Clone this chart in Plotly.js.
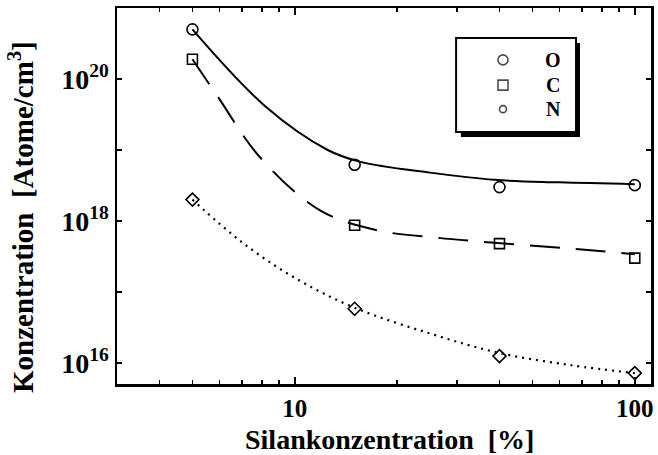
<!DOCTYPE html>
<html>
<head>
<meta charset="utf-8">
<script src="https://cdn.plot.ly/plotly-3.0.1.min.js"></script>
<style>
  html, body { margin: 0; padding: 0; background: #fff; }
  #chart { width: 658px; height: 455px; }
</style>
</head>
<body>
<div id="chart"></div>
<script>
// Measured impurity concentrations vs. silane concentration
const silan = [5, 15, 40, 100];
const oxygen = [5.0e20, 6.2e18, 3.0e18, 3.2e18];
const carbon = [1.9e20, 8.7e17, 4.8e17, 3.0e17];
const nitrogen = [2.0e18, 5.8e16, 1.25e16, 7.2e15];

// Fitted trend curves (points along each curve)
const oFitX = [5, 8.2, 12.5, 15.6, 25, 38.7, 60, 100];
const oFitY = [5.0e20, 4.1e19, 1.0e19, 6.8e18, 4.8e18, 3.8e18, 3.5e18, 3.3e18];
const cFitX = [5, 5.9, 7.9, 11.9, 17.5, 26.3, 39.5, 60.5, 100];
const cFitY = [1.9e20, 5.9e19, 7.9e18, 1.4e18, 7.4e17, 5.8e17, 4.9e17, 4.2e17, 3.4e17];
const nFitX = [5, 7, 10, 15, 25, 40, 65, 100];
const nFitY = [2.0e18, 5.0e17, 1.58e17, 6.0e16, 2.6e16, 1.38e16, 9.3e15, 7.2e15];

const xTickVals = [10, 100];
const xTickText = ['10', '100'];
const xMinorVals = [3, 4, 5, 6, 7, 8, 9, 20, 30, 40, 50, 60, 70, 80, 90];
const yTickVals = [1e16, 1e18, 1e20];
const yTickText = ['10<sup>16</sup>', '10<sup>18</sup>', '10<sup>20</sup>'];
const yMinorVals = [1e17, 1e19];

const legendNames = ['O', 'C', 'N'];
const legendSymbols = ['circle-open', 'square-open', 'circle-open'];
const legendSizes = [10, 10, 7];
const legendKeyX = [0.7228, 0.7228, 0.7228];
const legendY = [0.862, 0.795, 0.731];

const xTitle = 'Silankonzentration  [%]';
const yTitle = 'Konzentration  [Atome/cm<sup>3</sup>]';

const serif = 'Liberation Serif, Times New Roman, serif';

const traces = [
  { x: oFitX, y: oFitY, mode: 'lines', line: { color: '#000', width: 2, shape: 'spline', smoothing: 1 }, hoverinfo: 'skip' },
  { x: cFitX, y: cFitY, mode: 'lines', line: { color: '#000', width: 2, shape: 'spline', smoothing: 1, dash: '30px,16px' }, hoverinfo: 'skip' },
  { x: nFitX, y: nFitY, mode: 'lines', line: { color: '#000', width: 2.2, shape: 'spline', smoothing: 1, dash: '2px,5px' }, hoverinfo: 'skip' },
  { x: silan, y: oxygen, name: 'O', mode: 'markers', marker: { symbol: 'circle-open', size: 11, color: '#000', line: { width: 1.6 } } },
  { x: silan, y: carbon, name: 'C', mode: 'markers', marker: { symbol: 'square-open', size: 10, color: '#000', line: { width: 1.6 } } },
  { x: silan, y: nitrogen, name: 'N', mode: 'markers', marker: { symbol: 'diamond-open', size: 10, color: '#000', line: { width: 1.6 } } },
  // legend keys, drawn on an overlay axis spanning the plot area
  { x: legendKeyX, y: legendY, xaxis: 'x2', yaxis: 'y2', mode: 'markers',
    marker: { symbol: legendSymbols, size: legendSizes, color: '#000', line: { width: 1.6 } }, hoverinfo: 'skip' }
];

const layout = {
  width: 658,
  height: 455,
  margin: { l: 117, r: 7, t: 8, b: 71 },
  paper_bgcolor: '#fff',
  plot_bgcolor: '#fff',
  showlegend: false,
  font: { family: serif, color: '#000', size: 28, weight: 700 },
  xaxis: {
    type: 'log',
    range: [Math.log10(3), 2.0477],
    tickvals: xTickVals,
    ticktext: xTickText,
    ticks: 'inside',
    ticklen: 7,
    tickwidth: 1.5,
    tickcolor: '#000',
    minor: { tickvals: xMinorVals, ticks: 'inside', ticklen: 4, tickwidth: 1.5, tickcolor: '#000', showgrid: false },
    showline: true,
    linewidth: 2.5,
    linecolor: '#000',
    mirror: 'ticks',
    showgrid: false,
    zeroline: false,
    tickfont: { family: serif, size: 25, weight: 700 }
  },
  yaxis: {
    type: 'log',
    range: [15.704, 21.0],
    tickvals: yTickVals,
    ticktext: yTickText,
    ticks: 'inside',
    ticklen: 5,
    tickwidth: 1.5,
    tickcolor: '#000',
    minor: { tickvals: yMinorVals, ticks: 'inside', ticklen: 5, tickwidth: 1.5, tickcolor: '#000', showgrid: false },
    showline: true,
    linewidth: 2.5,
    linecolor: '#000',
    mirror: 'ticks',
    showgrid: false,
    zeroline: false,
    tickfont: { family: serif, size: 28, weight: 700 }
  },
  xaxis2: { overlaying: 'x', range: [0, 1], visible: false, fixedrange: true },
  yaxis2: { overlaying: 'y', range: [0, 1], visible: false, fixedrange: true },
  shapes: [
    // legend box shadow and frame
    { type: 'rect', xref: 'paper', yref: 'paper', x0: 0.644, x1: 0.867, y0: 0.657, y1: 0.907,
      fillcolor: '#000', line: { width: 0 }, layer: 'below' },
    { type: 'rect', xref: 'paper', yref: 'paper', x0: 0.635, x1: 0.8596, y0: 0.670, y1: 0.920,
      fillcolor: '#fff', line: { color: '#000', width: 2 }, layer: 'below' }
  ],
  annotations: legendNames.map((n, i) => ({
    text: n, xref: 'paper', yref: 'paper', x: 0.8165, y: legendY[i],
    xanchor: 'center', yanchor: 'middle', showarrow: false,
    font: { family: serif, size: 20, weight: 700, color: '#000' }
  })).concat([
    // axis titles
    { text: xTitle, xref: 'paper', yref: 'paper', x: 0.51, y: -0.148, xanchor: 'center', yanchor: 'middle',
      showarrow: false, font: { family: serif, size: 28, weight: 700, color: '#000' } },
    { text: yTitle, xref: 'paper', yref: 'paper', x: -0.18, y: 0.444, xanchor: 'center', yanchor: 'middle',
      textangle: -90, showarrow: false, font: { family: serif, size: 29, weight: 700, color: '#000' } }
  ])
};

Plotly.newPlot('chart', traces, layout, { displayModeBar: false, staticPlot: true });
</script>
</body>
</html>
